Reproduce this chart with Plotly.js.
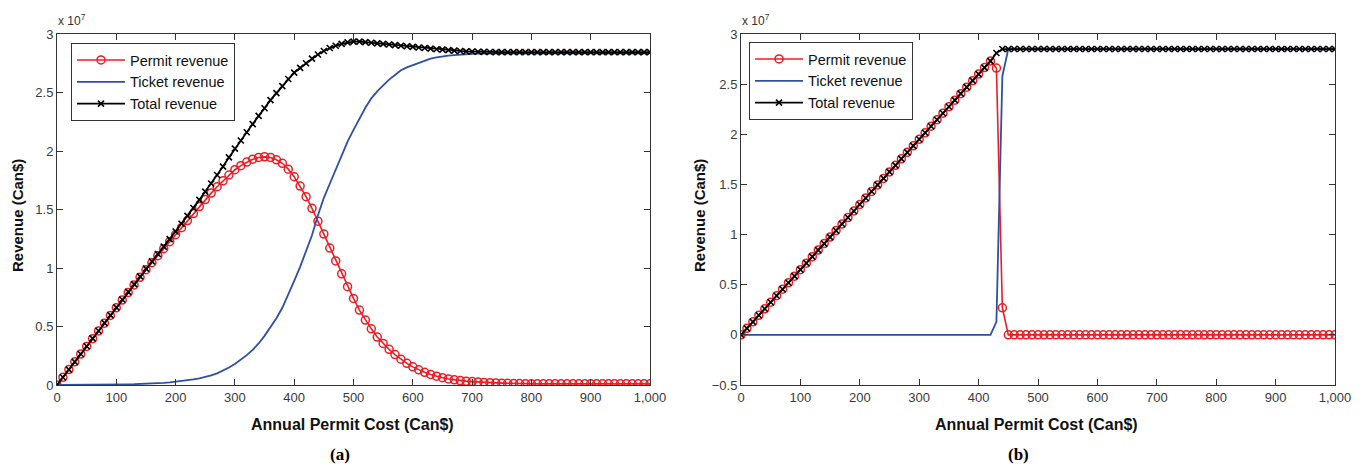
<!DOCTYPE html>
<html>
<head>
<meta charset="utf-8">
<script src="https://cdn.plot.ly/plotly-3.0.1.min.js"></script>
<style>html,body{margin:0;padding:0;background:#fff;}#chart{width:1364px;height:470px;}</style>
</head>
<body>
<div id="chart"></div>
<script>
// Annual permit cost (Can$), sampled every 10
const permitCost = [0,10,20,30,40,50,60,70,80,90,100,110,120,130,140,150,160,170,180,190,200,210,220,230,240,250,260,270,280,290,300,310,320,330,340,350,360,370,380,390,400,410,420,430,440,450,460,470,480,490,500,510,520,530,540,550,560,570,580,590,600,610,620,630,640,650,660,670,680,690,700,710,720,730,740,750,760,770,780,790,800,810,820,830,840,850,860,870,880,890,900,910,920,930,940,950,960,970,980,990,1000];

// Panel (a) revenues, in units of 10^7 Can$
const permitRevenueA = [0,0.066,0.132,0.198,0.264,0.33,0.396,0.462,0.528,0.594,0.66,0.726,0.79,0.855,0.92,0.985,1.045,1.105,1.165,1.225,1.285,1.345,1.405,1.465,1.525,1.585,1.64,1.695,1.745,1.795,1.84,1.875,1.905,1.93,1.945,1.95,1.945,1.925,1.895,1.845,1.78,1.70,1.61,1.51,1.40,1.29,1.17,1.06,0.95,0.84,0.74,0.64,0.555,0.48,0.41,0.355,0.305,0.26,0.22,0.185,0.155,0.13,0.108,0.09,0.075,0.062,0.052,0.044,0.038,0.033,0.029,0.025,0.022,0.02,0.018,0.016,0.014,0.013,0.012,0.011,0.01,0.01,0.01,0.01,0.01,0.01,0.01,0.01,0.01,0.01,0.01,0.01,0.01,0.01,0.01,0.01,0.01,0.01,0.01,0.01,0.01];
const ticketRevenueA = [0,0,0,0.001,0.001,0.001,0.002,0.002,0.003,0.003,0.004,0.005,0.006,0.007,0.008,0.01,0.012,0.015,0.018,0.022,0.027,0.033,0.04,0.048,0.057,0.068,0.082,0.10,0.122,0.15,0.18,0.215,0.255,0.30,0.355,0.42,0.49,0.57,0.66,0.77,0.89,1.01,1.14,1.28,1.45,1.60,1.72,1.84,1.96,2.08,2.18,2.28,2.37,2.45,2.51,2.56,2.61,2.65,2.69,2.715,2.735,2.755,2.775,2.79,2.80,2.81,2.815,2.82,2.825,2.828,2.83,2.832,2.834,2.835,2.835,2.835,2.835,2.835,2.835,2.835,2.835,2.835,2.835,2.835,2.835,2.835,2.835,2.835,2.835,2.835,2.835,2.835,2.835,2.835,2.835,2.835,2.835,2.835,2.835,2.835,2.835];
const totalRevenueA = [0,0.066,0.132,0.198,0.265,0.331,0.398,0.464,0.531,0.597,0.664,0.731,0.796,0.862,0.928,0.995,1.057,1.12,1.183,1.247,1.312,1.378,1.445,1.513,1.582,1.653,1.722,1.795,1.867,1.945,2.02,2.09,2.16,2.23,2.30,2.365,2.435,2.495,2.555,2.615,2.67,2.71,2.75,2.79,2.825,2.855,2.88,2.90,2.915,2.928,2.935,2.935,2.93,2.925,2.92,2.915,2.91,2.905,2.90,2.895,2.89,2.885,2.88,2.875,2.87,2.866,2.862,2.858,2.855,2.852,2.85,2.848,2.847,2.846,2.845,2.845,2.845,2.845,2.845,2.845,2.845,2.845,2.845,2.845,2.845,2.845,2.845,2.845,2.845,2.845,2.845,2.845,2.845,2.845,2.845,2.845,2.845,2.845,2.845,2.845,2.845];

// Panel (b) revenues, in units of 10^7 Can$
const permitRevenueB = [0,0.065,0.13,0.195,0.26,0.325,0.39,0.455,0.52,0.585,0.65,0.715,0.78,0.845,0.91,0.975,1.04,1.105,1.17,1.235,1.30,1.365,1.43,1.495,1.56,1.625,1.69,1.755,1.82,1.885,1.95,2.015,2.08,2.145,2.21,2.275,2.34,2.405,2.47,2.535,2.60,2.665,2.73,2.66,0.27,0,0,0,0,0,0,0,0,0,0,0,0,0,0,0,0,0,0,0,0,0,0,0,0,0,0,0,0,0,0,0,0,0,0,0,0,0,0,0,0,0,0,0,0,0,0,0,0,0,0,0,0,0,0,0,0];
const ticketRevenueB = [0,0,0,0,0,0,0,0,0,0,0,0,0,0,0,0,0,0,0,0,0,0,0,0,0,0,0,0,0,0,0,0,0,0,0,0,0,-0.005,-0.005,-0.005,-0.005,-0.005,0,0.13,2.58,2.85,2.85,2.85,2.85,2.85,2.85,2.85,2.85,2.85,2.85,2.85,2.85,2.85,2.85,2.85,2.85,2.85,2.85,2.85,2.85,2.85,2.85,2.85,2.85,2.85,2.85,2.85,2.85,2.85,2.85,2.85,2.85,2.85,2.85,2.85,2.85,2.85,2.85,2.85,2.85,2.85,2.85,2.85,2.85,2.85,2.85,2.85,2.85,2.85,2.85,2.85,2.85,2.85,2.85,2.85,2.85];
const totalRevenueB = [0,0.065,0.13,0.195,0.26,0.325,0.39,0.455,0.52,0.585,0.65,0.715,0.78,0.845,0.91,0.975,1.04,1.105,1.17,1.235,1.30,1.365,1.43,1.495,1.56,1.625,1.69,1.755,1.82,1.885,1.95,2.015,2.08,2.145,2.21,2.275,2.34,2.405,2.47,2.535,2.60,2.665,2.73,2.81,2.85,2.85,2.85,2.85,2.85,2.85,2.85,2.85,2.85,2.85,2.85,2.85,2.85,2.85,2.85,2.85,2.85,2.85,2.85,2.85,2.85,2.85,2.85,2.85,2.85,2.85,2.85,2.85,2.85,2.85,2.85,2.85,2.85,2.85,2.85,2.85,2.85,2.85,2.85,2.85,2.85,2.85,2.85,2.85,2.85,2.85,2.85,2.85,2.85,2.85,2.85,2.85,2.85,2.85,2.85,2.85,2.85];

// Tick labels
const xTickVals = [0,100,200,300,400,500,600,700,800,900,1000];
const xTickText = ['0','100','200','300','400','500','600','700','800','900','1,000'];
const yTickValsA = [0,0.5,1,1.5,2,2.5,3];
const yTickTextA = ['0','0.5','1','1.5','2','2.5','3'];
const yTickValsB = [-0.5,0,0.5,1,1.5,2,2.5,3];
const yTickTextB = ['\u22120.5','0','0.5','1','1.5','2','2.5','3'];
const seriesNames = ['Permit revenue','Ticket revenue','Total revenue'];
const panelLabels = ['(a)','(b)'];
const xTitle = 'Annual Permit Cost (Can$)';
const yTitle = 'Revenue (Can$)';
const expLabel = 'x 10<sup>7</sup>';

const W = 1364, H = 470;
const px = v => v / W;
const py = v => 1 - v / H;

const RED = '#ee1c24', BLUE = '#2f4fa6', BLACK = '#000000';
const FONT = 'Liberation Sans, Arial, Helvetica, sans-serif';

function mk(xa, ya, leg, P, T, Tot) {
  return [
    {x: permitCost, y: P, xaxis: xa, yaxis: ya, legend: leg, name: seriesNames[0], type: 'scatter', mode: 'lines+markers',
     line: {color: RED, width: 1.6}, marker: {symbol: 'circle-open', size: 8, color: RED, line: {width: 1.5, color: RED}}},
    {x: permitCost, y: T, xaxis: xa, yaxis: ya, legend: leg, name: seriesNames[1], type: 'scatter', mode: 'lines',
     line: {color: BLUE, width: 1.8}},
    {x: permitCost, y: Tot, xaxis: xa, yaxis: ya, legend: leg, name: seriesNames[2], type: 'scatter', mode: 'lines+markers',
     line: {color: BLACK, width: 1.8}, marker: {symbol: 'x-thin', size: 6, color: BLACK, line: {width: 1.6, color: BLACK}}}
  ];
}

const data = [].concat(
  mk('x', 'y', 'legend', permitRevenueA, ticketRevenueA, totalRevenueA),
  mk('x2', 'y2', 'legend2', permitRevenueB, ticketRevenueB, totalRevenueB)
);

const axBase = {
  showline: true, linecolor: '#333', linewidth: 1, mirror: 'ticks',
  ticks: 'inside', ticklen: 6, tickcolor: '#333', tickwidth: 1,
  showgrid: false, zeroline: false,
  tickfont: {family: FONT, size: 13, color: '#3a3a3a'},
  fixedrange: true
};

const legBase = {
  xanchor: 'left', yanchor: 'top', bgcolor: '#fff', bordercolor: '#333', borderwidth: 1,
  font: {family: FONT, size: 14.5, color: '#111'}, itemwidth: 48, tracegroupgap: 0
};

const layout = {
  width: W, height: H,
  margin: {l: 0, r: 0, t: 0, b: 0},
  paper_bgcolor: '#fff', plot_bgcolor: '#fff',
  showlegend: true,
  xaxis: Object.assign({}, axBase, {domain: [px(57), px(650)], range: [0, 1000], tickvals: xTickVals, ticktext: xTickText, anchor: 'y'}),
  yaxis: Object.assign({}, axBase, {domain: [py(385), py(34)], range: [0, 3], tickvals: yTickValsA, ticktext: yTickTextA, anchor: 'x'}),
  xaxis2: Object.assign({}, axBase, {domain: [px(741), px(1335)], range: [0, 1000], tickvals: xTickVals, ticktext: xTickText, anchor: 'y2'}),
  yaxis2: Object.assign({}, axBase, {domain: [py(385), py(34)], range: [-0.5, 3], tickvals: yTickValsB, ticktext: yTickTextB, anchor: 'x2'}),
  legend: Object.assign({}, legBase, {x: px(71), y: py(43)}),
  legend2: Object.assign({}, legBase, {x: px(749), y: py(42)}),
  annotations: [
    {xref: 'paper', yref: 'paper', x: px(352), y: py(424), text: '<b>' + xTitle + '</b>', showarrow: false, xanchor: 'center', yanchor: 'middle', font: {family: FONT, size: 16, color: '#111'}},
    {xref: 'paper', yref: 'paper', x: px(1036), y: py(424), text: '<b>' + xTitle + '</b>', showarrow: false, xanchor: 'center', yanchor: 'middle', font: {family: FONT, size: 16, color: '#111'}},
    {xref: 'paper', yref: 'paper', x: px(17), y: py(216), text: '<b>' + yTitle + '</b>', textangle: -90, showarrow: false, xanchor: 'center', yanchor: 'middle', font: {family: FONT, size: 15, color: '#111'}},
    {xref: 'paper', yref: 'paper', x: px(699), y: py(216), text: '<b>' + yTitle + '</b>', textangle: -90, showarrow: false, xanchor: 'center', yanchor: 'middle', font: {family: FONT, size: 15, color: '#111'}},
    {xref: 'paper', yref: 'paper', x: px(340), y: py(454), text: '<b>' + panelLabels[0] + '</b>', showarrow: false, xanchor: 'center', yanchor: 'middle', font: {family: 'Liberation Serif, Times New Roman, serif', size: 17, color: '#000'}},
    {xref: 'paper', yref: 'paper', x: px(1018), y: py(454), text: '<b>' + panelLabels[1] + '</b>', showarrow: false, xanchor: 'center', yanchor: 'middle', font: {family: 'Liberation Serif, Times New Roman, serif', size: 17, color: '#000'}},
    {xref: 'paper', yref: 'paper', x: px(56), y: py(30), text: expLabel, showarrow: false, xanchor: 'left', yanchor: 'bottom', font: {family: FONT, size: 12, color: '#333'}},
    {xref: 'paper', yref: 'paper', x: px(740), y: py(30), text: expLabel, showarrow: false, xanchor: 'left', yanchor: 'bottom', font: {family: FONT, size: 12, color: '#333'}}
  ]
};

Plotly.newPlot('chart', data, layout, {staticPlot: true, displayModeBar: false});
</script>
</body>
</html>
